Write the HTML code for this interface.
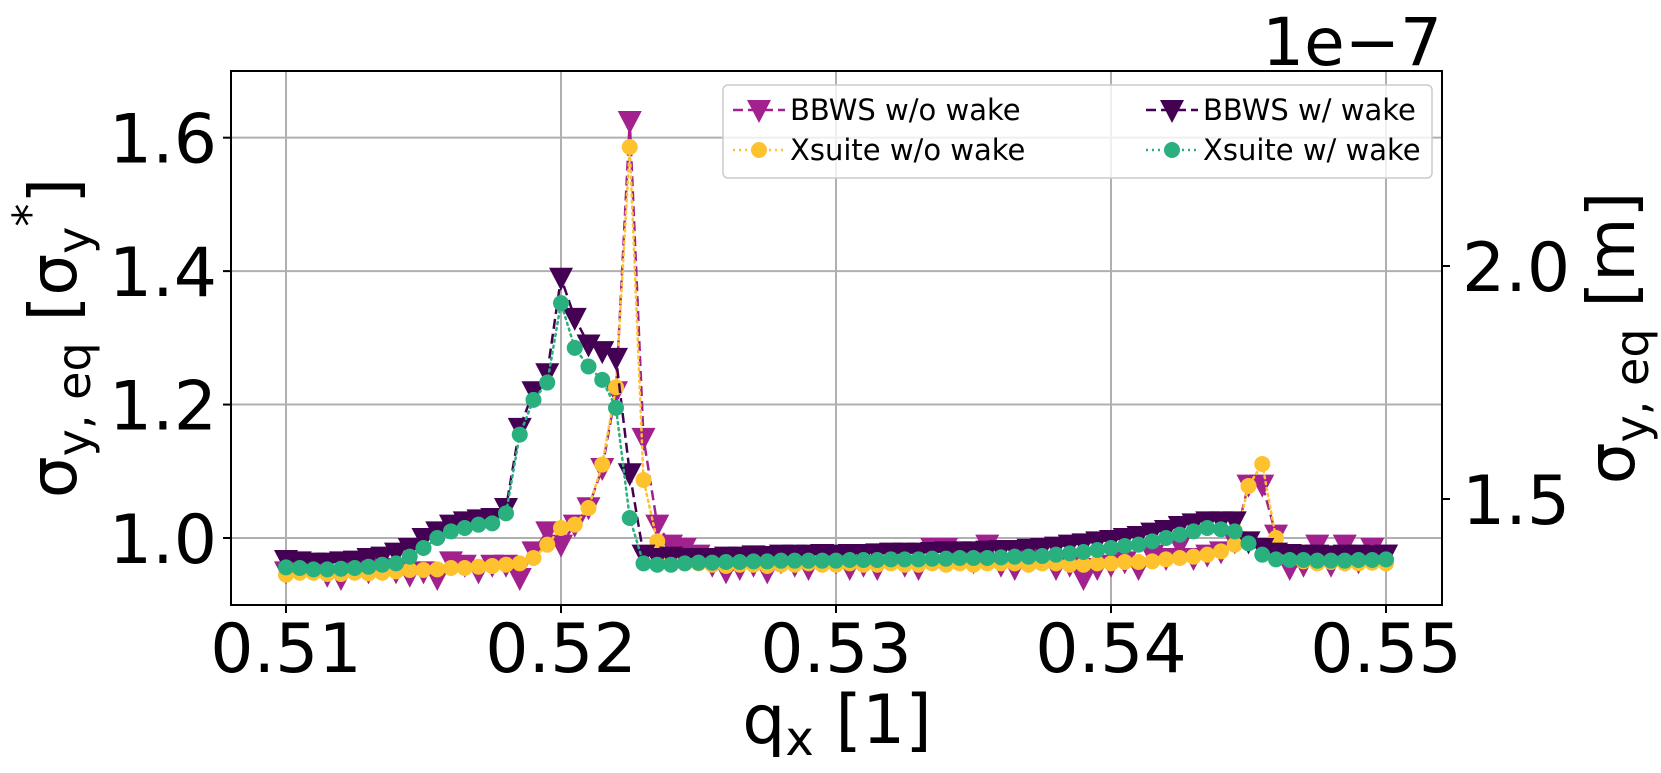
<!DOCTYPE html>
<html><head><meta charset="utf-8"><style>
html,body{margin:0;padding:0;background:#fff;}
svg{display:block;font-family:"DejaVu Sans","Liberation Sans",sans-serif;}
</style></head><body>
<svg id="chart" width="1661" height="773" viewBox="0 0 1661 773" xmlns="http://www.w3.org/2000/svg">
<g id="grid"></g>
<g id="series"></g>
<rect x="231" y="71" width="1211" height="534" fill="none" stroke="#000" stroke-width="2"/>
<g id="axes"></g>
<text x="837" y="743" font-size="68" text-anchor="middle">q<tspan font-size="48" dy="12">x</tspan><tspan dy="-12"> [1]</tspan></text>
<text transform="translate(76,338) rotate(-90)" font-size="66" text-anchor="middle">σ<tspan font-size="46" dy="14">y, eq</tspan><tspan dy="-14"> [σ</tspan><tspan font-size="46" dy="14">y</tspan><tspan font-size="46" dy="-44">*</tspan><tspan dy="30">]</tspan></text>
<text transform="translate(1634,338) rotate(-90)" font-size="66" text-anchor="middle">σ<tspan font-size="46" dy="14">y, eq</tspan><tspan dy="-14"> [m]</tspan></text>
<text x="1442" y="65" font-size="66" text-anchor="end">1e−7</text>
<g>
<rect x="723" y="85" width="709" height="93" rx="5" fill="#fff" fill-opacity="0.8" stroke="#ccc" stroke-width="1.5"/>
<g id="legend-items"></g>
</g>
</svg>
<script>
const qx = [];
for (let i = 0; i <= 80; i++) qx.push(0.51 + i * 0.0005);
const bbwsNoWake = [0.95,0.955,0.955,0.945,0.94,0.955,0.95,0.955,0.95,0.945,
0.95,0.94,0.965,0.96,0.95,0.96,0.96,0.94,0.98,1.01,
0.99,1.02,1.046,1.105,1.22,1.625,1.15,1.02,0.99,0.985,
0.975,0.96,0.95,0.955,0.96,0.95,0.965,0.96,0.955,0.975,
0.965,0.955,0.96,0.955,0.975,0.96,0.955,0.985,0.985,0.97,
0.965,0.99,0.96,0.955,0.975,0.985,0.955,0.96,0.94,0.955,
0.96,0.965,0.955,0.975,0.97,0.99,0.97,0.975,0.98,0.995,
1.08,1.08,1.005,0.955,0.96,0.99,0.96,0.99,0.965,0.985,0.975];
const xsuiteNoWake = [0.945,0.948,0.948,0.946,0.946,0.948,0.947,0.948,0.95,0.952,
0.952,0.953,0.955,0.955,0.957,0.958,0.96,0.962,0.97,0.99,
1.015,1.02,1.045,1.11,1.226,1.586,1.087,0.995,0.968,0.962,
0.962,0.96,0.958,0.96,0.96,0.958,0.96,0.96,0.962,0.96,
0.96,0.962,0.96,0.96,0.962,0.96,0.96,0.962,0.96,0.962,
0.96,0.962,0.962,0.962,0.96,0.962,0.962,0.96,0.96,0.962,
0.962,0.964,0.964,0.965,0.968,0.97,0.972,0.975,0.98,0.99,
1.078,1.111,1.0,0.968,0.965,0.962,0.964,0.962,0.962,0.963,0.962];
const bbwsWake = [0.967,0.965,0.963,0.963,0.965,0.966,0.97,0.972,0.978,0.985,
1.0,1.01,1.02,1.025,1.028,1.03,1.045,1.165,1.22,1.247,
1.39,1.33,1.29,1.28,1.27,1.097,0.975,0.97,0.972,0.97,
0.97,0.97,0.972,0.972,0.974,0.973,0.975,0.975,0.975,0.976,
0.975,0.976,0.976,0.977,0.978,0.978,0.978,0.979,0.98,0.98,
0.98,0.981,0.982,0.982,0.984,0.985,0.987,0.99,0.992,0.995,
0.997,1.0,1.003,1.008,1.012,1.018,1.022,1.025,1.025,1.025,
0.995,0.985,0.978,0.976,0.975,0.975,0.974,0.975,0.975,0.974,0.975];
const xsuiteWake = [0.956,0.955,0.953,0.953,0.954,0.955,0.957,0.96,0.962,0.972,
0.985,1.0,1.01,1.015,1.02,1.022,1.037,1.155,1.207,1.233,
1.352,1.285,1.257,1.237,1.195,1.03,0.962,0.96,0.96,0.962,
0.963,0.963,0.964,0.964,0.965,0.965,0.966,0.966,0.966,0.966,
0.966,0.967,0.967,0.967,0.968,0.968,0.968,0.969,0.969,0.97,
0.97,0.97,0.971,0.972,0.972,0.973,0.975,0.977,0.979,0.982,
0.985,0.988,0.99,0.995,1.0,1.005,1.01,1.015,1.013,1.01,
0.992,0.975,0.968,0.967,0.967,0.966,0.966,0.966,0.967,0.967,0.968];
const xTicks = [0.51,0.52,0.53,0.54,0.55];
const xTickLabels = ["0.51","0.52","0.53","0.54","0.55"];
const yTicks = [1.0,1.2,1.4,1.6];
const yTickLabels = ["1.0","1.2","1.4","1.6"];
const rightTicks = [1.5,2.0];
const rightTickLabels = ["1.5","2.0"];

const NS = "http://www.w3.org/2000/svg";
const L = 231, R = 1442, T = 71, B = 605;
function xs(v){ return 286 + (v - 0.51) * 27500; }
function ys(v){ return 538 - (v - 1.0) * 667.2; }
function yr(v){ return 499 - (v - 1.5) * 466; }
function mk(tag, attrs, parent){ const e = document.createElementNS(NS, tag); for (const k in attrs) e.setAttribute(k, attrs[k]); parent.appendChild(e); return e; }

const grid = document.getElementById('grid');
const axes = document.getElementById('axes');
xTicks.forEach((t, i) => {
  const x = xs(t);
  const g = mk('line', {x1:x, x2:x, y1:T, y2:B, stroke:'#b0b0b0', 'stroke-width':2}, grid);
  
  
  const tk = mk('line', {x1:x, x2:x, y1:B, y2:B+8, stroke:'#000', 'stroke-width':2}, axes);
  
  
  const tx = mk('text', {x:x, y:672, 'font-size':68, 'text-anchor':'middle'}, axes);
  tx.textContent = xTickLabels[i];
  
  
});
yTicks.forEach((t, i) => {
  const y = ys(t);
  const g = mk('line', {x1:L, x2:R, y1:y, y2:y, stroke:'#b0b0b0', 'stroke-width':2}, grid);
  
  
  const tk = mk('line', {x1:L-8, x2:L, y1:y, y2:y, stroke:'#000', 'stroke-width':2}, axes);
  
  
  const tx = mk('text', {x:L-14, y:y+25, 'font-size':68, 'text-anchor':'end'}, axes);
  tx.textContent = yTickLabels[i];
  
  
});
rightTicks.forEach((t, i) => {
  const y = yr(t);
  const tk = mk('line', {x1:R, x2:R+8, y1:y, y2:y, stroke:'#000', 'stroke-width':2}, axes);
  
  
  const tx = mk('text', {x:R+20, y:y+25, 'font-size':68, 'text-anchor':'start'}, axes);
  tx.textContent = rightTickLabels[i];
  
  
});

const seriesDefs = [
  {name:'bbws-no-wake', label:'BBWS w/o wake', data:bbwsNoWake, color:'#a3218f', dash:'10,5', marker:'tri'},
  {name:'xsuite-no-wake', label:'Xsuite w/o wake', data:xsuiteNoWake, color:'#fdc22e', dash:'2,4', marker:'circ'},
  {name:'bbws-wake', label:'BBWS w/ wake', data:bbwsWake, color:'#440154', dash:'10,5', marker:'tri'},
  {name:'xsuite-wake', label:'Xsuite w/ wake', data:xsuiteWake, color:'#2ab07f', dash:'2,4', marker:'circ'}
];
function marker(parent, type, x, y, color, nm){
  let e;
  if (type === 'tri') e = mk('polygon', {points:`${x-12},${y-10} ${x+12},${y-10} ${x},${y+13}`, fill:color}, parent);
  else e = mk('circle', {cx:x, cy:y, r:8, fill:color}, parent);
  
  
  return e;
}
const sg = document.getElementById('series');
seriesDefs.forEach(s => {
  const g = mk('g', {}, sg);
  
  
  const pts = s.data.map((v, i) => xs(qx[i]) + ',' + ys(v)).join(' ');
  const pl = mk('polyline', {points:pts, fill:'none', stroke:s.color, 'stroke-width':2.5, 'stroke-dasharray':s.dash, 'stroke-linecap': s.marker==='circ'?'round':'butt'}, g);
  
  
  s.data.forEach((v, i) => marker(g, s.marker, xs(qx[i]), ys(v), s.color, s.name + '-point'));
});

const li = document.getElementById('legend-items');
const legendPos = [[733,110],[733,150],[1146,110],[1146,150]];
seriesDefs.forEach((s, k) => {
  const [x, y] = legendPos[k];
  const g = mk('g', {}, li);
  
  
  mk('line', {x1:x, x2:x+52, y1:y, y2:y, stroke:s.color, 'stroke-width':2.5, 'stroke-dasharray':s.dash}, g);
  marker(g, s.marker, x+26, y, s.color, 'legend-marker');
  const t = mk('text', {x:x+57, y:y+10, 'font-size':29}, g);
  t.textContent = s.label;
  
  
});
</script>
</body></html>
